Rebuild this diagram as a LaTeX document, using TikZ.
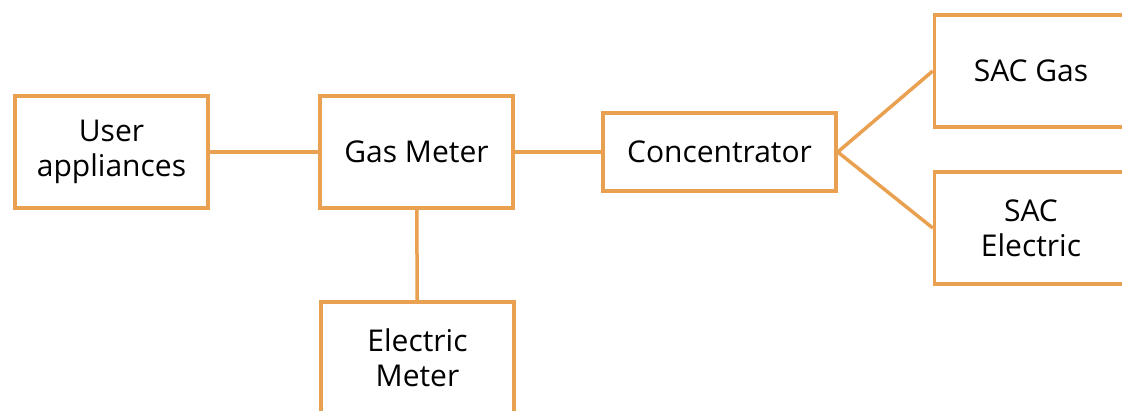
\documentclass[tikz,border=0pt]{standalone}
\usepackage{fontspec}
\setmainfont{Open Sans}
\usepackage{xcolor}
\definecolor{boxline}{RGB}{233,160,80}

\begin{document}
\begin{tikzpicture}[x=1pt,y=-1pt,font=\fontsize{30}{35}\selectfont,
    unit/.style={draw=boxline,line width=3.5pt,fill=white,align=center,
                 minimum width=193pt,minimum height=112pt,inner sep=0pt},
    link/.style={draw=boxline,line width=3.5pt}]
    % page frame (pixels of the reference)
    \useasboundingbox (0,0) rectangle (1122,410);

    % boxes
    \node[unit] (user) at (111.5,152) {User\\appliances};
    \node[unit] (gasmeter) at (416.5,152) {Gas Meter};
    \node[unit] (elecmeter) at (417.5,358) {Electric\\Meter};
    \node[unit,minimum width=233pt,minimum height=78pt] (conc) at (719.5,152) {Concentrator};
    \node[unit] (sacgas) at (1031,71) {SAC Gas};
    \node[unit] (sacelec) at (1031,228) {SAC\\Electric};

    % links
    \draw[link] (user) -- (gasmeter);
    \draw[link] (gasmeter) -- (conc);
    \draw[link] (gasmeter) -- (elecmeter);
    \draw[link] (conc.east) -- (sacgas.west);
    \draw[link] (conc.east) -- (sacelec.west);
\end{tikzpicture}
\end{document}
